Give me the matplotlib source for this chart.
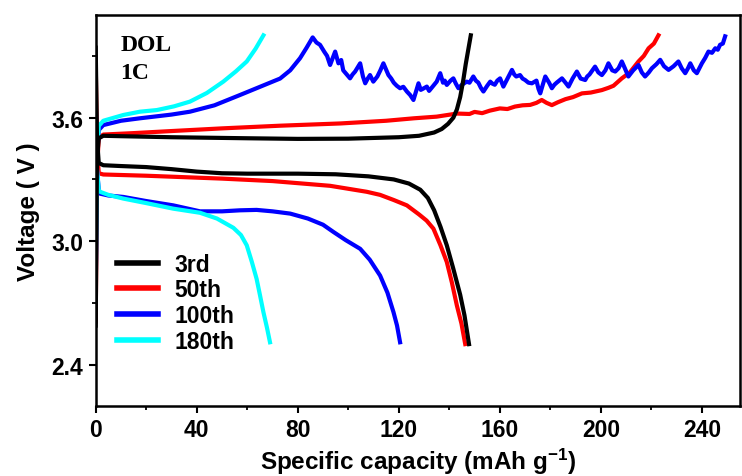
import matplotlib
matplotlib.use("Agg")
import matplotlib.pyplot as plt
from matplotlib.ticker import MultipleLocator

plt.rcParams["font.family"] = ["Liberation Sans", "DejaVu Sans"]
plt.rcParams["font.weight"] = "bold"
plt.rcParams["mathtext.fontset"] = "custom"
plt.rcParams["mathtext.rm"] = "Liberation Sans:bold"
plt.rcParams["mathtext.bf"] = "Liberation Sans:bold"
plt.rcParams["mathtext.default"] = "rm"

# 3rd cycle
cap_3rd_chg = [0, 0.5, 1.2, 3, 10, 30, 60, 80, 100, 120, 128, 134, 137, 139.5,
               141.6, 143, 144.3, 145.5, 146.5, 147.5, 148.5]
v_3rd_chg = [2.59, 3.40, 3.50, 3.512, 3.51, 3.505, 3.50, 3.497, 3.498, 3.505, 3.512,
             3.528, 3.545, 3.57, 3.60, 3.64, 3.70, 3.78, 3.86, 3.93, 4.00]
cap_3rd_dis = [0, 0.5, 1.2, 3, 10, 20, 30, 40, 50, 60, 80, 95, 108, 118, 124, 128.5,
               131.5, 134, 136.5, 139, 141.5, 144.3, 146, 147.8]
v_3rd_dis = [3.94, 3.50, 3.38, 3.369, 3.365, 3.36, 3.35, 3.338, 3.33, 3.328, 3.328,
             3.325, 3.315, 3.30, 3.28, 3.25, 3.21, 3.15, 3.07, 2.98, 2.87, 2.74, 2.64, 2.50]

# 50th cycle
cap_50th_chg = [0, 0.5, 1.2, 3, 15, 30, 50, 73, 97, 115, 126, 135, 143, 148, 150, 153,
                156, 160, 163, 166, 169, 172, 174.5, 176.6, 178.5, 180.6, 183, 186,
                189, 192.5, 196, 200.4, 203, 205, 208.3, 211.5, 214.9, 217, 218.9,
                221, 222.8]
v_50th_chg = [2.61, 3.35, 3.50, 3.518, 3.525, 3.535, 3.548, 3.561, 3.572, 3.585, 3.597,
              3.605, 3.62, 3.618, 3.628, 3.622, 3.634, 3.645, 3.642, 3.654, 3.66, 3.662,
              3.672, 3.686, 3.672, 3.661, 3.675, 3.69, 3.70, 3.718, 3.722, 3.734, 3.745,
              3.755, 3.791, 3.82, 3.873, 3.90, 3.937, 3.96, 4.00]
cap_50th_dis = [0, 0.5, 1.2, 3, 20, 50, 70, 92.8, 107.3, 112.6, 118, 123.2, 128, 131,
                133.7, 136.5, 139, 141, 143, 144.8, 146.3]
v_50th_dis = [3.87, 3.45, 3.33, 3.324, 3.318, 3.304, 3.292, 3.269, 3.24, 3.225, 3.20,
              3.174, 3.13, 3.10, 3.061, 2.98, 2.899, 2.80, 2.687, 2.60, 2.50]

# 100th cycle (charge branch is noisy above ~86 mAh/g)
cap_100th_chg = [0, 0.5, 1.2, 3, 10, 17.5, 30, 37.3, 47, 57.1, 65, 73, 77, 80.9, 83.5,
                 85.9, 87.4, 88.8, 90.5, 91.6, 92.8, 94.8, 96.1, 97.2, 98, 99.4, 100.7,
                 101.7, 102.7, 104.7, 105.8, 106.7, 107.7, 108.6, 109.9, 111.5, 112.7,
                 113.9, 115.9, 117, 118, 119.2, 120.5, 121.8, 123.2, 124.5, 125.8,
                 127.8, 128.7, 129.5, 131.1, 132, 133, 134, 135, 136.4, 137.5, 138.2,
                 139, 140.5, 141.6, 142.6, 143.6, 145, 146.9, 148, 149.5, 150.5, 151.5,
                 152.5, 153.5, 155, 156.2, 157.1, 158, 159, 160.1, 161.4, 162.2, 163,
                 164.8, 165.7, 166.5, 168, 169, 170, 171.3, 172.7, 174.5, 175.3, 176,
                 177, 178, 179.5, 180.6, 181.6, 182.5, 184.6, 186, 187.2, 188.8, 190.5,
                 192, 193.8, 194.6, 195.5, 197.7, 199, 200.4, 201.8, 203, 204.5, 205.7,
                 207, 208.3, 209.5, 210.9, 212.8, 214.9, 216.2, 217.5, 219, 220.2,
                 222, 223.5, 225, 226.8, 228.8, 230.7, 232, 233.4, 234.5, 235.4, 236.8,
                 238, 239, 240, 241.3, 242.6, 244, 245.3, 246.3, 247.2, 248.3, 249.2]
v_100th_chg = [2.75, 3.40, 3.54, 3.564, 3.585, 3.597, 3.615, 3.629, 3.66, 3.71, 3.75,
               3.79, 3.83, 3.889, 3.94, 3.99, 3.965, 3.954, 3.92, 3.90, 3.856, 3.921,
               3.864, 3.88, 3.83, 3.81, 3.791, 3.81, 3.824, 3.864, 3.80, 3.767, 3.79,
               3.807, 3.775, 3.80, 3.83, 3.864, 3.807, 3.79, 3.77, 3.755, 3.743, 3.75,
               3.727, 3.71, 3.686, 3.767, 3.735, 3.74, 3.751, 3.73, 3.745, 3.76, 3.775,
               3.816, 3.77, 3.78, 3.759, 3.78, 3.791, 3.765, 3.743, 3.76, 3.775, 3.77,
               3.80, 3.78, 3.77, 3.745, 3.727, 3.755, 3.775, 3.765, 3.76, 3.78, 3.791,
               3.751, 3.77, 3.79, 3.832, 3.81, 3.80, 3.807, 3.79, 3.783, 3.77, 3.767,
               3.78, 3.74, 3.718, 3.76, 3.80, 3.77, 3.743, 3.76, 3.77, 3.791, 3.77,
               3.751, 3.79, 3.824, 3.79, 3.783, 3.80, 3.81, 3.848, 3.82, 3.807, 3.83,
               3.864, 3.83, 3.824, 3.84, 3.873, 3.84, 3.80, 3.83, 3.856, 3.82, 3.80,
               3.82, 3.84, 3.86, 3.881, 3.85, 3.832, 3.85, 3.873, 3.84, 3.816, 3.84,
               3.864, 3.83, 3.816, 3.84, 3.864, 3.89, 3.921, 3.915, 3.937, 3.93, 3.954,
               3.96, 3.995]
cap_100th_dis = [0, 0.5, 1.2, 1.7, 5, 10.9, 20, 30.7, 41.3, 50, 57.1, 63.7, 70, 77, 84,
                 90, 94.1, 99, 104.7, 108.5, 112.6, 115.5, 117.9, 119.3, 120.5]
v_100th_dis = [3.70, 3.35, 3.25, 3.231, 3.222, 3.215, 3.195, 3.174, 3.145, 3.145, 3.15,
               3.152, 3.145, 3.134, 3.11, 3.08, 3.045, 3.005, 2.963, 2.91, 2.833, 2.75,
               2.655, 2.59, 2.509]

# 180th cycle
cap_180th_chg = [0, 0.5, 1.2, 3, 10.9, 17.5, 24.2, 31, 37.3, 44, 50.5, 55.5, 59.8,
                 63.3, 66.4]
v_180th_chg = [2.80, 3.40, 3.56, 3.585, 3.613, 3.629, 3.637, 3.655, 3.678, 3.72, 3.775,
               3.825, 3.873, 3.935, 4.00]
cap_180th_dis = [0, 0.5, 1.2, 1.7, 5, 10.9, 20, 30.7, 41.3, 48, 54.5, 57.5, 59.8, 61.8,
                 63.7, 65, 66.4, 67.8, 69]
v_180th_dis = [3.58, 3.35, 3.25, 3.24, 3.225, 3.207, 3.185, 3.158, 3.138, 3.11, 3.065,
               3.03, 2.98, 2.90, 2.817, 2.74, 2.655, 2.58, 2.509]

cycles = [
    ("3rd", "black", cap_3rd_chg, v_3rd_chg, cap_3rd_dis, v_3rd_dis, 5),
    ("50th", "red", cap_50th_chg, v_50th_chg, cap_50th_dis, v_50th_dis, 2),
    ("100th", "blue", cap_100th_chg, v_100th_chg, cap_100th_dis, v_100th_dis, 3),
    ("180th", "cyan", cap_180th_chg, v_180th_chg, cap_180th_dis, v_180th_dis, 4),
]

fig = plt.figure(figsize=(7.42, 4.77), dpi=100)
ax = fig.add_axes([0.129, 0.147, 0.868, 0.820])

handles = []
for label, color, xc, vc, xd, vd, z in cycles:
    line, = ax.plot(xc, vc, color=color, lw=3.0, zorder=z, solid_joinstyle="round",
                    label=label)
    ax.plot(xd, vd, color=color, lw=3.0, zorder=z, solid_joinstyle="round")
    handles.append(line)

ax.set_xlim(0, 255)
ax.set_ylim(2.2, 4.1)
ax.xaxis.set_major_locator(MultipleLocator(40))
ax.xaxis.set_minor_locator(MultipleLocator(20))
ax.yaxis.set_major_locator(MultipleLocator(0.6))
ax.yaxis.set_minor_locator(MultipleLocator(0.3))
ax.set_yticks([2.4, 3.0, 3.6])
ax.set_yticklabels(["2.4", "3.0", "3.6"])

for s in ax.spines.values():
    s.set_linewidth(1.8)
ax.tick_params(which="major", direction="out", length=5, width=1.5, labelsize=16.5, pad=4)
ax.tick_params(which="minor", direction="out", length=3, width=1.3)
for t in ax.get_xticklabels() + ax.get_yticklabels():
    t.set_fontweight("bold")

ax.set_xlabel("Specific capacity (mAh g$^{-1}$)", fontsize=17.5, fontweight="bold",
              labelpad=3)
ax.set_ylabel("Voltage ( V )", fontsize=17.5, fontweight="bold", labelpad=8)

ax.text(0.038, 0.952, "DOL\n1C", transform=ax.transAxes, ha="left", va="top",
        fontsize=17, fontweight="bold", family="Liberation Serif", linespacing=1.45)

leg = ax.legend(handles=handles, loc="upper left", bbox_to_anchor=(0.033, 0.392),
                frameon=False, fontsize=16.5, handlelength=1.8, handletextpad=0.7,
                labelspacing=0.12, borderaxespad=0, borderpad=0)
for t in leg.get_texts():
    t.set_fontweight("bold")
for l in leg.get_lines():
    l.set_linewidth(4.0)

fig.savefig("out.png", dpi=100)
